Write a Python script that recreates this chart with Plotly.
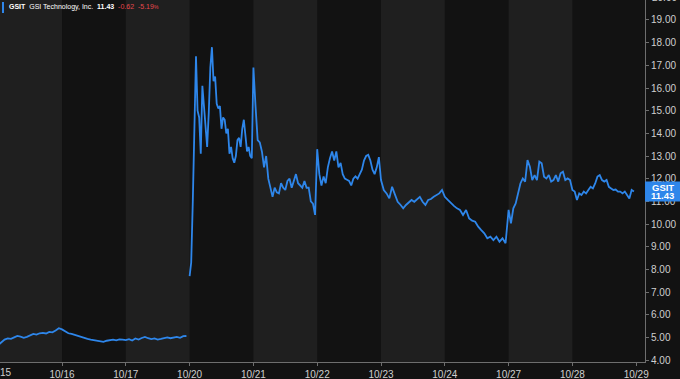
import plotly.graph_objects as go

# ---------------- data ----------------
tick_labels = ["10/15", "10/16", "10/17", "10/20", "10/21", "10/22",
               "10/23", "10/24", "10/27", "10/28", "10/29"]

p_1015 = [4.66, 4.80, 4.90, 4.95, 4.93, 5.00, 5.06, 5.03, 4.98, 5.02,
          5.08, 5.15, 5.12, 5.18, 5.20, 5.17, 5.24, 5.22, 5.30, 5.40]
p_1016 = [5.35, 5.25, 5.18, 5.15, 5.10, 5.05, 5.02, 4.98, 4.93, 4.90,
          4.88, 4.86, 4.84, 4.80, 4.85, 4.88, 4.90, 4.87, 4.91, 4.90]
p_1017 = [4.88, 4.92, 4.86, 4.95, 4.90, 4.97, 5.02, 4.96, 4.92, 4.95,
          4.90, 4.93, 4.97, 5.00, 4.96, 5.00, 5.02, 4.98, 5.05, 5.06]
p_1020 = [7.7, 8.3, 11.0, 14.5, 17.4, 15.0, 14.7, 13.1, 16.1, 15.2,
          14.4, 13.4, 14.9, 16.9, 17.8, 16.3, 16.5, 15.3, 15.1, 15.2,
          14.2, 14.7, 14.6, 14.0, 14.2, 13.1, 13.4, 12.9, 12.7, 13.0,
          13.7, 13.8, 13.4, 14.2, 14.6, 13.9, 13.2, 13.4, 13.0, 12.9]
p_1021 = [16.9, 15.2, 13.7, 13.6, 13.2, 12.5, 13.0, 12.0, 11.6, 11.2,
          11.6, 11.4, 11.35, 11.8, 11.6, 11.5, 11.9, 12.0, 11.6, 11.9,
          12.2, 11.8, 11.7, 11.6, 11.9, 11.6, 11.6, 11.0, 10.9, 10.4]
p_1022 = [13.3, 12.2, 11.7, 12.1, 11.8, 12.5, 12.9, 13.2, 12.8, 13.2,
          12.5, 12.7, 12.2, 12.0, 11.95, 11.9, 11.7, 12.0, 12.1, 12.0,
          12.2, 12.4, 12.8, 13.0, 13.05, 12.8, 12.4, 12.2, 12.5, 12.95]
p_1023 = [11.94, 11.5, 11.35, 11.13, 11.64, 11.28, 10.98, 10.85, 10.69, 10.84,
          10.95, 11.06, 10.98, 11.1, 11.2, 10.98, 10.84, 11.06, 11.1, 11.2,
          11.28, 11.35, 11.5]
p_1024 = [11.2, 11.06, 10.91, 10.8, 10.69, 10.62, 10.4, 10.62, 10.25, 10.15,
          10.1, 9.88, 9.73, 9.59, 9.37, 9.44, 9.29, 9.44, 9.22, 9.37, 9.15]
p_1027 = [10.62, 10.03, 10.69, 10.91, 11.35, 11.79, 12.01, 11.87, 12.82, 12.53,
          11.94, 12.16, 11.94, 12.75, 12.68, 12.09, 12.01, 12.16, 11.87, 11.94,
          12.16, 11.87, 12.24, 12.31, 11.94, 12.01, 11.94]
p_1028 = [11.5, 11.43, 11.06, 11.35, 11.28, 11.43, 11.35, 11.5, 11.64, 11.57,
          11.79, 12.09, 12.16, 11.94, 11.87, 11.94, 11.64, 11.57, 11.5, 11.52,
          11.43, 11.43, 11.35, 11.43, 11.28, 11.13, 11.5, 11.43]

sessions = [p_1015, p_1016, p_1017, p_1020, p_1021, p_1022,
            p_1023, p_1024, p_1027, p_1028]
gap_before = [3]          # no line drawn between 10/17 close and 10/20 open

last_price = 11.43
change = -0.62
change_pct = -5.19
ticker = "GSIT"
company = "GSI Technology, Inc."
y_ticks = [4, 5, 6, 7, 8, 9, 10, 11, 12, 13, 14, 15, 16, 17, 18, 19]

# ---------------- build series ----------------
xs, ys = [], []
for i, s in enumerate(sessions):
    if i in gap_before:
        xs.append(None)
        ys.append(None)
    n = len(s)
    for j, v in enumerate(s):
        xs.append(i + j / n)
        ys.append(v)

# ---------------- style ----------------
BG = "#121212"
BAND = "#1f1f1f"
BLUE = "#2e86ea"
RED = "#e5484d"
AX = "#6e6e6e"
TXT = "#cfcfcf"
FONT = "Liberation Sans, Arial, sans-serif"

W, H = 680, 379
ML, MR, MT, MB = 0, 35, 0, 17
PW, PH = W - ML - MR, H - MT - MB
XR = [0.028, 10.138]
YR = [3.912, 19.882]


def xp(d):
    return (d - XR[0]) / (XR[1] - XR[0])


def yp(v):
    return (v - YR[0]) / (YR[1] - YR[0])


fig = go.Figure()
fig.add_trace(go.Scatter(x=xs, y=ys, mode="lines",
                         line=dict(color=BLUE, width=1.8),
                         connectgaps=False, hoverinfo="skip"))

shapes = []
for i in range(0, len(sessions), 2):
    shapes.append(dict(type="rect", xref="x", yref="paper", x0=i, x1=i + 1,
                       y0=0, y1=1, fillcolor=BAND, line=dict(width=0),
                       layer="below"))

# last price box on the right
box_h = 10 / PH
yc = yp(last_price)
shapes.append(dict(type="rect", xref="paper", yref="paper",
                   x0=1.0, x1=1.0 + MR / PW, y0=yc - box_h, y1=yc + box_h,
                   fillcolor=BLUE, line=dict(width=0), layer="above"))
# header bar
shapes.append(dict(type="rect", xref="paper", yref="paper",
                   x0=2 / PW, x1=4 / PW, y0=1 - 13 / PH, y1=1 - 2 / PH,
                   fillcolor=BLUE, line=dict(width=0), layer="above"))

ann = []
ann.append(dict(xref="paper", yref="paper", x=1.0 + (MR / 2) / PW, y=yc + 4.2 / PH,
                text=f"<b>{ticker}</b>", showarrow=False, xanchor="center",
                yanchor="middle", font=dict(color="white", size=9.5, family=FONT)))
ann.append(dict(xref="paper", yref="paper", x=1.0 + (MR / 2) / PW, y=yc - 4.2 / PH,
                text=f"<b>{last_price:.2f}</b>", showarrow=False, xanchor="center",
                yanchor="middle", font=dict(color="white", size=9.5, family=FONT)))
# partially visible labels at the edges
ann.append(dict(xref="paper", yref="paper", x=xp(0), y=0, yshift=-3,
                text=tick_labels[0], showarrow=False, xanchor="center",
                yanchor="top", font=dict(color=TXT, size=10, family=FONT)))
ann.append(dict(xref="paper", yref="paper", x=1.0, xshift=5, y=yp(20),
                text="20.00", showarrow=False, xanchor="left",
                yanchor="middle", font=dict(color=TXT, size=10, family=FONT)))
# header text
hy = 1 - 7 / PH
header = (f"<b>{ticker}</b>  {company}  <b>{last_price:.2f}</b>  "
          f"<span style='color:{RED}'>{change:.2f}  {change_pct:.2f}"
          f"<span style='font-size:5px'>%</span></span>")
ann.append(dict(xref="paper", yref="paper", x=7 / PW, y=hy, text=header,
                showarrow=False, xanchor="left", yanchor="middle",
                font=dict(color="white", size=7, family=FONT)))

fig.update_layout(
    width=W, height=H,
    margin=dict(l=ML, r=MR, t=MT, b=MB, pad=0),
    paper_bgcolor=BG, plot_bgcolor=BG,
    showlegend=False,
    shapes=shapes, annotations=ann,
    xaxis=dict(range=XR, tickvals=list(range(len(tick_labels))),
               ticktext=tick_labels, showgrid=False, zeroline=False,
               showline=True, linecolor=AX, linewidth=1,
               ticks="outside", ticklen=3, tickcolor=AX,
               tickfont=dict(color=TXT, size=10, family=FONT)),
    yaxis=dict(range=YR, side="right", tickvals=y_ticks,
               ticktext=[f"{v:.2f}" for v in y_ticks],
               showgrid=False, zeroline=False, showline=True,
               linecolor=AX, linewidth=1, ticks="outside", ticklen=3,
               tickcolor=AX, tickfont=dict(color=TXT, size=10, family=FONT)),
)

fig.write_html("out.html")
